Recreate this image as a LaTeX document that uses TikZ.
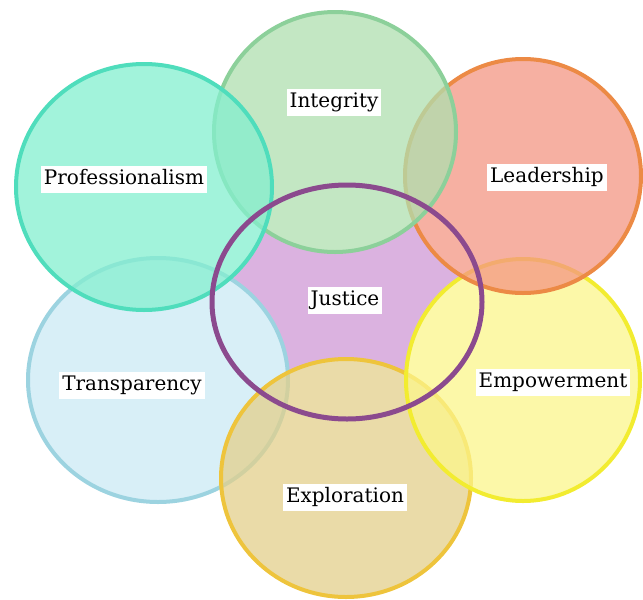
\documentclass[tikz,border=0pt]{standalone}
\usepackage{fontspec}
\setmainfont{DejaVu Serif}
\definecolor{profF}{HTML}{84EFCF}\definecolor{profD}{HTML}{4FDDBC}
\definecolor{intF}{HTML}{AFE0AF}\definecolor{intD}{HTML}{8CD09A}
\definecolor{leadF}{HTML}{F49683}\definecolor{leadD}{HTML}{EC8A45}
\definecolor{jusF}{HTML}{DBB2E0}\definecolor{jusD}{HTML}{8B4A8E}
\definecolor{traF}{HTML}{CBEAF5}\definecolor{traD}{HTML}{9CD3E0}
\definecolor{empF}{HTML}{FCF68B}\definecolor{empD}{HTML}{F2EC30}
\definecolor{expF}{HTML}{E4D08B}\definecolor{expD}{HTML}{EEC43C}
\tikzset{
  ring/.style={line width=4pt, fill opacity=0.75},
  lbl/.style={fill=white, inner xsep=3pt, inner ysep=4pt, text height=15pt, text depth=4pt,
    font=\fontsize{20}{22}\selectfont, text=black}
}
\begin{document}
\begin{tikzpicture}[x=1pt,y=-1pt]
\useasboundingbox (0,0) rectangle (643,600);
% Justice fill at the bottom
\fill[jusF] (347,302) ellipse [x radius=135, y radius=117];
% white underlay of the outer circles
\fill[white] (158,380) ellipse [x radius=130, y radius=122];
\fill[white] (346,478) ellipse [x radius=125, y radius=119];
\fill[white] (523,380) ellipse [x radius=117, y radius=121];
\fill[white] (523,176) ellipse [x radius=118, y radius=117];
\fill[white] (335,132) ellipse [x radius=121, y radius=120];
\fill[white] (144,187) ellipse [x radius=128, y radius=123];
% outer circles
\filldraw[ring, fill=traF, draw=traD] (158,380) ellipse [x radius=130, y radius=122];
\filldraw[ring, fill=expF, draw=expD] (346,478) ellipse [x radius=125, y radius=119];
\filldraw[ring, fill=empF, draw=empD] (523,380) ellipse [x radius=117, y radius=121];
\filldraw[ring, fill=leadF, draw=leadD] (523,176) ellipse [x radius=118, y radius=117];
\filldraw[ring, fill=intF, draw=intD] (335,132) ellipse [x radius=121, y radius=120];
\filldraw[ring, fill=profF, draw=profD] (144,187) ellipse [x radius=128, y radius=123];
% Justice outline on top
\draw[jusD, line width=5pt] (347,302) ellipse [x radius=135, y radius=117];
% labels
\node[lbl] (prof) at (124,179) {Professionalism};
\node[lbl] (int) at (334,102) {Integrity};
\node[lbl] (lead) at (547,177) {Leadership};
\node[lbl] (jus) at (345,300) {Justice};
\node[lbl] (tra) at (132,385) {Transparency};
\node[lbl] (emp) at (553,382) {Empowerment};
\node[lbl] (exp) at (345,497) {Exploration};
\end{tikzpicture}
\end{document}
